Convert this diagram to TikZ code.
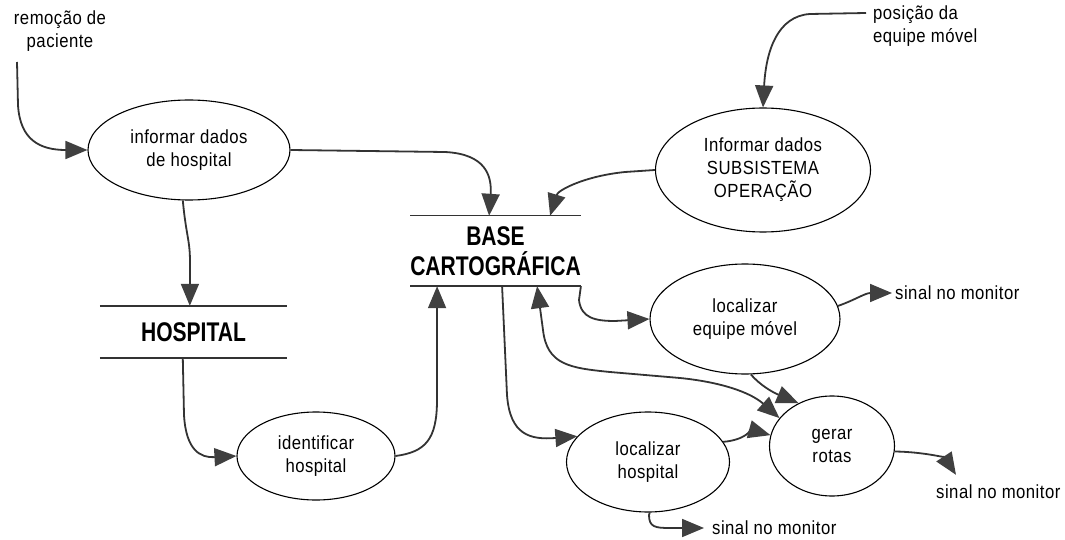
\documentclass[tikz,border=0pt]{standalone}
\usepackage{fontspec}
\setmainfont{Liberation Sans}
\newfontfamily\lblfont[FakeStretch=0.88,LetterSpace=2.5]{Liberation Sans}
\newfontfamily\storefont[FakeStretch=0.78]{Liberation Sans Bold}
\usetikzlibrary{shapes.geometric,arrows.meta}
\definecolor{flowgray}{HTML}{333333}
\definecolor{tipgray}{HTML}{404040}
\tikzset{
  proc/.style={ellipse, draw=black, line width=1.1pt, inner sep=0pt,
    align=center, font=\lblfont\fontsize{19}{23}\selectfont},
  txt/.style={inner sep=0pt, align=left, font=\lblfont\fontsize{19}{23}\selectfont},
  storelbl/.style={inner sep=0pt, align=center,
    font=\storefont\fontsize{27}{30}\selectfont},
  storeline/.style={line width=1.6pt, draw=flowgray},
  ftip/.tip={Triangle[length=22pt,width=18pt,fill=tipgray,color=tipgray]},
  flow/.style={line width=1.8pt, draw=flowgray, -{ftip}},
  flowboth/.style={line width=1.8pt, draw=flowgray, {ftip}-{ftip}},
}
\begin{document}
\begin{tikzpicture}[x=1pt,y=-1pt]
\useasboundingbox (0,0) rectangle (1065,540);

% external texts
\node[txt, align=center] (rem) at (60,31) {remoção de\\paciente};
\node[txt, anchor=west] (pos) at (873,26) {posição da\\equipe móvel};
\node[txt, anchor=west] (sig1) at (895,293) {sinal no monitor};
\node[txt, anchor=west] (sig2) at (936,492) {sinal no monitor};
\node[txt, anchor=west] (sig3) at (712,528) {sinal no monitor};

% processes
\node[proc, minimum width=202, minimum height=100] (idh) at (189,150) {informar dados\\de hospital};
\node[proc, minimum width=215, minimum height=124] (ido) at (763,170) {Informar dados\\SUBSISTEMA\\OPERAÇÃO};
\node[proc, minimum width=158, minimum height=88] (ih) at (316,456) {identificar\\hospital};
\node[proc, minimum width=190, minimum height=110] (lem) at (745,319) {localizar\\equipe móvel};
\node[proc, minimum width=163, minimum height=100] (lh) at (648,462) {localizar\\hospital};
\node[proc, minimum width=125, minimum height=100] (gr) at (832,446) {gerar\\rotas};

% data stores
\node[storelbl, minimum width=187, minimum height=52] (hosp) at (193.5,332) {HOSPITAL};
\draw[storeline] (hosp.north west) -- (hosp.north east);
\draw[storeline] (hosp.south west) -- (hosp.south east);
\node[storelbl, minimum width=165, minimum height=70] (base) at (495.5,251) {BASE\\CARTOGRÁFICA};
\draw[storeline, line width=1.2pt] (base.north west) -- (base.north east);
\draw[storeline] (base.south west) -- (base.south east);

% free ends
\coordinate (remA) at (17,62);
\coordinate (posA) at (866,13);

% flows
\draw[flow] (remA) -- (18,105) .. controls (20,140) and (40,150) .. (idh.west);
\draw[flow] (idh.east) -- (445,152) .. controls (485,154) and (492,175) .. ([xshift=79]base.north west);
\draw[flow] (idh.263) .. controls (186,235) and (190,240) .. (190,262) -- ([xshift=90]hosp.north west);
\draw[flow] ([xshift=83]hosp.south west) -- (184,415) .. controls (186,450) and (200,458) .. (ih.west);
\draw[flow] (ih.east) .. controls (425,452) and (437,440) .. (437,400) -- ([xshift=27]base.south west);
\draw[flow] (posA) -- (810,14) .. controls (778,16) and (766,50) .. (ido.north);
\draw[flow] (ido.west) -- (625,172) .. controls (585,176) and (558,190) .. ([xshift=140]base.north west);
\draw[flow] (base.south east) -- (579,300) .. controls (581,318) and (595,321) .. (615,321) -- (lem.west);
\draw[flow] (lem.8) .. controls (855,300) and (865,293) .. ([xshift=-3]sig1.west);
\draw[flow] (lem.-84) .. controls (760,385) and (772,392) .. (gr.128);
\draw[flowboth] ([xshift=127]base.south west) -- (543,330) .. controls (547,365) and (570,368) .. (610,372) -- (680,378) .. controls (720,382) and (750,392) .. (gr.152);
\draw[flow] ([xshift=92]base.south west) -- (507,395) .. controls (510,435) and (530,440) .. (lh.160);
\draw[flow] (lh.15) .. controls (745,440) and (752,430) .. (gr.170);
\draw[flow] (gr.-5) .. controls (925,452) and (945,458) .. ([xshift=20,yshift=10]sig2.north west);
\draw[flow] (lh.-88) -- (649,515) .. controls (649,527) and (655,528) .. (670,528) -- ([xshift=-8]sig3.west);
\end{tikzpicture}
\end{document}
